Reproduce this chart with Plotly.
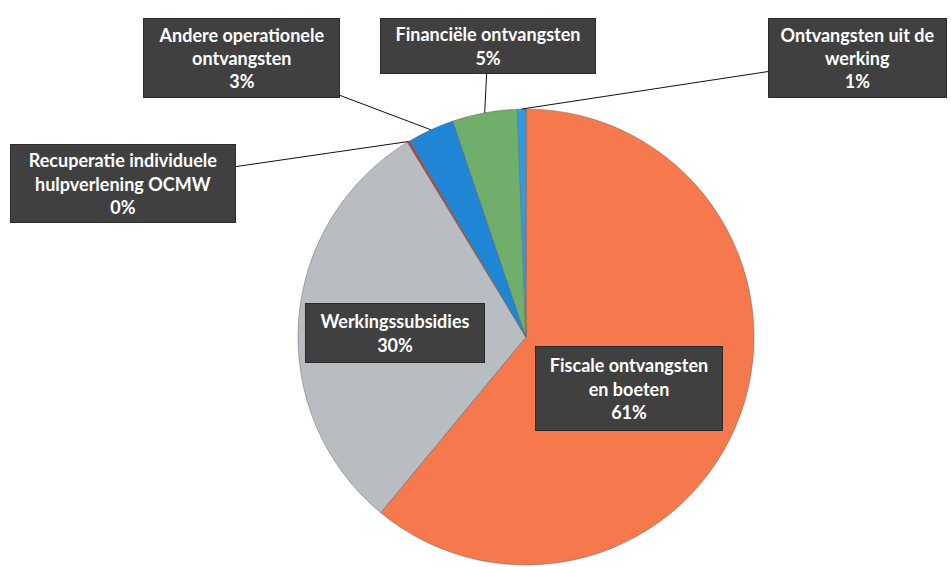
import math
import plotly.graph_objects as go

# data (clockwise from 12 o'clock)
labels = ["Fiscale ontvangsten<br>en boeten",
          "Werkingssubsidies",
          "Recuperatie individuele<br>hulpverlening OCMW",
          "Andere operationele<br>ontvangsten",
          "Financiële ontvangsten",
          "Ontvangsten uit de<br>werking"]
values = [61.0, 30.3, 0.2, 3.3, 4.6, 0.6]
colors = ["#F5794C", "#B9BCC0", "#A34A45", "#1F86D6", "#6FAE6B", "#2E9BE6"]

# label box layout (pixel coords: centre x, centre y, width, height, leader line?)
W, H = 951, 567
cx, cy, r = 526, 337, 228
boxes = [(629, 388, 188, 85, False),
         (395, 333, 180, 60, False),
         (123, 183, 226, 79, True),
         (241, 58, 197, 80, True),
         (488, 46, 216, 56, True),
         (857, 58, 179, 80, True)]

fig = go.Figure()
fig.add_trace(go.Pie(
    labels=labels, values=values, sort=False, direction="clockwise",
    rotation=0, textinfo="none", hoverinfo="label+percent",
    marker=dict(colors=colors, line=dict(color="#666666", width=0.5)),
    domain=dict(x=[(cx - r) / W, (cx + r) / W],
                y=[1 - (cy + r) / H, 1 - (cy - r) / H]),
    showlegend=False,
))

total = sum(values)
cum = 0
for lab, v, (bx, by, bw, bh, lead) in zip(labels, values, boxes):
    mid = (cum + v / 2) / total * 2 * math.pi
    cum += v
    pct = "%d%%" % round(v / total * 100)
    text = lab + "<br>" + pct
    common = dict(text=text, xref="x", yref="y", width=bw - 2, height=bh - 2,
                  bgcolor="#404040", bordercolor="#2b2b2b", borderwidth=1,
                  borderpad=0,
                  font=dict(color="white", size=18, family="Lato", weight="bold"),
                  align="center", valign="middle")
    if lead:
        tx = cx + r * math.sin(mid)
        ty = cy - r * math.cos(mid)
        fig.add_annotation(x=tx, y=ty, ax=bx, ay=by, axref="x", ayref="y",
                           showarrow=True, arrowhead=0, arrowwidth=1,
                           arrowcolor="#111111", standoff=0, **common)
    else:
        fig.add_annotation(x=bx, y=by, showarrow=False, **common)

fig.update_layout(
    width=W, height=H,
    margin=dict(l=0, r=0, t=0, b=0),
    paper_bgcolor="white", plot_bgcolor="rgba(0,0,0,0)",
    xaxis=dict(range=[0, W], visible=False, domain=[0, 1], fixedrange=True),
    yaxis=dict(range=[H, 0], visible=False, domain=[0, 1], fixedrange=True),
)

fig.write_html("out.html", config={"displayModeBar": False},
               post_script="document.body.style.margin='0';")
